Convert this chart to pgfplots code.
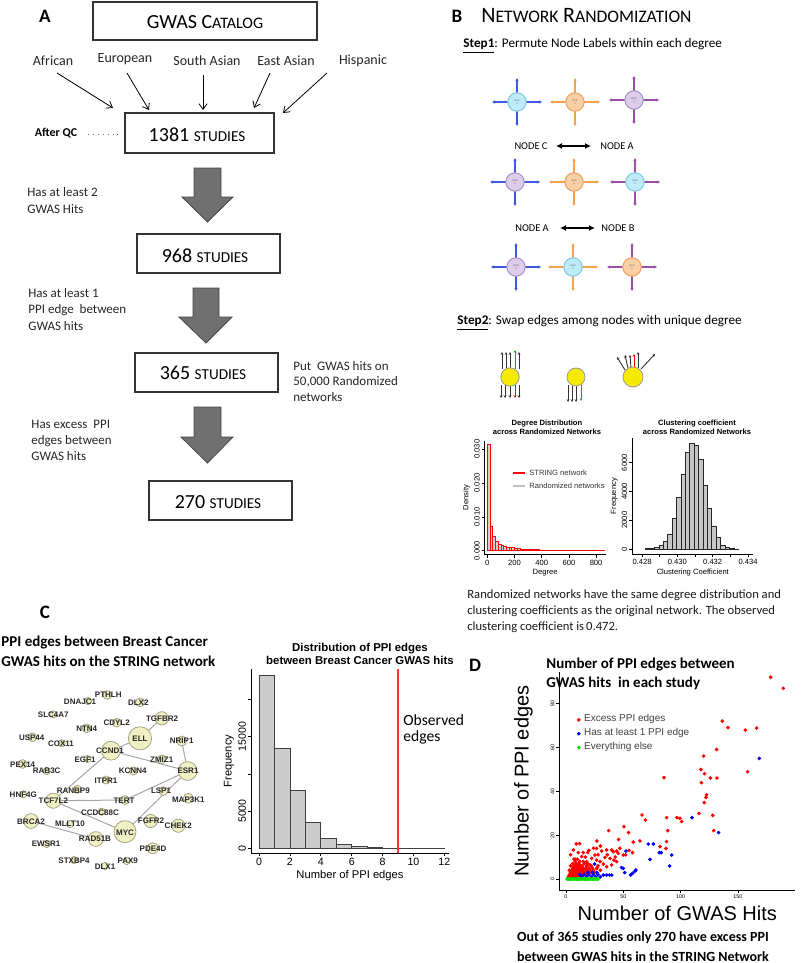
\documentclass[border=0pt]{standalone}
\usepackage{pgfplots}
\pgfplotsset{compat=1.18}
\usepackage{fontspec}
\setmainfont{Carlito}
\newfontfamily\arial{Liberation Sans}
\usetikzlibrary{arrows.meta}
\newcommand\fs[2]{\fontsize{#1pt}{#2pt}\selectfont}
\definecolor{bluesp}{HTML}{3B5BDB}
\definecolor{cyanf}{HTML}{BFEAF8}
\definecolor{cyanb}{HTML}{7CCBE5}
\definecolor{orangesp}{HTML}{F2A24A}
\definecolor{orangef}{HTML}{F9CFA6}
\definecolor{orangeb}{HTML}{EFA060}
\definecolor{purplesp}{HTML}{9B4FA8}
\definecolor{purplef}{HTML}{DCCDEA}
\definecolor{purpleb}{HTML}{A992C9}
\definecolor{yel}{HTML}{F5EA00}
\definecolor{nodefill}{HTML}{EFF0C4}
\definecolor{nodedraw}{HTML}{9C9C7A}
\definecolor{blk}{HTML}{707070}
\definecolor{blkb}{HTML}{454545}
\definecolor{rred}{HTML}{FF0000}
\definecolor{rblue}{HTML}{0000FF}
\definecolor{rgreen}{HTML}{00E000}
\newcommand\icon[5]{%
  \draw[#5, line width=0.6pt, -{Stealth[length=1.6pt,width=1.6pt]}] (#1+9,#2) -- (#1+25,#2);
  \draw[#5, line width=0.6pt, -{Stealth[length=1.6pt,width=1.6pt]}] (#1-9,#2) -- (#1-25,#2);
  \draw[#5, line width=0.6pt, -{Stealth[length=1.6pt,width=1.6pt]}] (#1,#2-9) -- (#1,#2-24);
  \draw[#5, line width=0.6pt, -{Stealth[length=1.6pt,width=1.6pt]}] (#1,#2+9) -- (#1,#2+24);
  \draw[fill=#3, draw=#4, line width=0.5pt] (#1,#2) circle[radius=4.6pt];
  \node[font={\fs{1.2}{1.4}}, text=black!60, align=center, inner sep=0pt] at (#1,#2) {NODE\\A};}
\pgfplotsset{rstyle/.style={scale only axis, clip=false, axis lines*=left,
  axis line style={line width=0.35pt,-}, tick align=outside,
  tick style={line width=0.35pt,black}, major tick length=1.5pt,
  scaled ticks=false,
  /pgf/number format/assume math mode=true,
  yticklabel style={rotate=90, anchor=south},
  every tick label/.append style={inner sep=0.8pt}}}
\begin{document}
\begin{tikzpicture}[x=0.5pt,y=-0.5pt]
\path[use as bounding box] (0,0) rectangle (800,963);
% ================= Panel A =================
\node[font={\bfseries\fs{9.5}{11}}] at (45,16) {A};
\draw[line width=0.55pt, draw=black!80] (93,2) rectangle (317,40);
\node at (205,22) {{\fs{10}{12}GWAS C}{\fs{8}{10}ATALOG}};
\foreach \t/\xx/\yy in {African/53/61, European/125/59, South Asian/207/61, East Asian/286/61, Hispanic/363/61}
  \node[font={\fs{7}{8}}, text=black!85] at (\xx,\yy) {\t};
\foreach \a/\b/\c/\d in {57/73/113/108, 127/73/149/110, 203/75/203/110, 270/73/254/108, 327/73/283/113}
  \draw[line width=0.4pt, -{Straight Barb[length=2.8pt,width=4pt]}] (\a,\b) -- (\c,\d);
\node[font={\bfseries\fs{6}{7}}] at (56,133) {After QC};
\draw[dotted, line width=0.45pt, black!60] (88,134) -- (119,134);
\draw[line width=0.55pt, draw=black!80] (125,113) rectangle (274,153);
\node at (197,135) {{\fs{10}{12}1381 }{\fs{7.6}{9}STUDIES}};
\draw[line width=0.55pt, draw=black!80] (137,234) rectangle (280,273);
\node at (205,256) {{\fs{10}{12}968 }{\fs{7.6}{9}STUDIES}};
\draw[line width=0.55pt, draw=black!80] (135,353) rectangle (278,392);
\node at (203,373) {{\fs{10}{12}365 }{\fs{7.6}{9}STUDIES}};
\draw[line width=0.55pt, draw=black!80] (149,481) rectangle (292,520);
\node at (218,502) {{\fs{10}{12}270 }{\fs{7.6}{9}STUDIES}};
% block arrows
\filldraw[fill=blk, draw=blkb, line width=0.4pt] (194,168) -- (221,168) -- (221,197) -- (233,197) -- (207.5,222) -- (182,197) -- (194,197) -- cycle;
\filldraw[fill=blk, draw=blkb, line width=0.4pt] (193,288) -- (219,288) -- (219,317) -- (232,317) -- (206,343) -- (179,317) -- (193,317) -- cycle;
\filldraw[fill=blk, draw=blkb, line width=0.4pt] (194,407) -- (221,407) -- (221,437) -- (233,437) -- (207.5,463) -- (181,437) -- (194,437) -- cycle;
\begin{scope}[every node/.style={anchor=west, font={\fs{6.5}{7.5}}, text=black!85, inner sep=0pt}]
\node at (27,192) {Has at least 2};
\node at (27,209) {GWAS Hits};
\node at (28,293) {Has at least 1};
\node at (28,310) {PPI edge\ \ between};
\node at (28,326) {GWAS hits};
\node at (31,424) {Has excess\ \ PPI};
\node at (31,441) {edges between};
\node at (31,456) {GWAS hits};
\node at (293,366) {Put\ \ GWAS hits on};
\node at (293,382) {50,000 Randomized};
\node at (293,397) {networks};
\end{scope}
% ================= Panel B =================
\node[font={\bfseries\fs{9.5}{11}}] at (457,16) {B};
\node[anchor=west, inner sep=0pt] at (481,16) {{\fs{11}{13}N}{\fs{8.8}{10}ETWORK} {\fs{11}{13}R}{\fs{8.8}{10}ANDOMIZATION}};
\node[anchor=west, inner sep=0pt, font={\fs{6.6}{8}}] at (463,46) {\underline{\textbf{Step1}}: Permute Node Labels within each degree};
\icon{517}{102}{cyanf}{cyanb}{bluesp}
\icon{575}{102}{orangef}{orangeb}{orangesp}
\icon{634}{100}{purplef}{purpleb}{purplesp}
\node[font={\fs{5.2}{6}}] at (531,146) {NODE C};
\node[font={\fs{5.2}{6}}] at (617,146) {NODE A};
\draw[{Latex[length=3pt,width=3pt]}-{Latex[length=3pt,width=3pt]}, line width=0.8pt] (556,146) -- (591,146);
\icon{515}{182}{purplef}{purpleb}{bluesp}
\icon{574}{182}{orangef}{orangeb}{orangesp}
\icon{635}{182}{cyanf}{cyanb}{purplesp}
\node[font={\fs{5.2}{6}}] at (532,228) {NODE A};
\node[font={\fs{5.2}{6}}] at (618,228) {NODE B};
\draw[{Latex[length=3pt,width=3pt]}-{Latex[length=3pt,width=3pt]}, line width=0.8pt] (560,228) -- (595,228);
\icon{516}{267}{purplef}{purpleb}{bluesp}
\icon{573}{267}{cyanf}{cyanb}{orangesp}
\icon{632}{267}{orangef}{orangeb}{purplesp}
\node[anchor=west, inner sep=0pt, font={\fs{6.6}{8}}] at (457,323) {\underline{\textbf{Step2}}: Swap edges among nodes with unique degree};
% step 2 icons
\begin{scope}[line width=0.45pt, -{Stealth[length=1.4pt,width=1.4pt]}]
\foreach \xx in {502,506,510,519} \draw[black!80] (\xx,369) -- (\xx,352);
\draw[green!70!black] (515,369) -- (515,350);
\foreach \xx in {501,505,510,519} \draw[black!80] (\xx,385) -- (\xx,398);
\draw[red] (515,385) -- (515,398);
\foreach \xx in {568,572,576} \draw[black!80] (\xx,385) -- (\xx,402);
\draw[green!70!black] (581,385) -- (581,401);
\draw[black!80] (625,370) -- (617,357);
\draw[black!80] (628,368) -- (625,355);
\draw[black!80] (631,368) -- (630,355);
\draw[red] (634,368) -- (634,354);
\draw[black!80] (638,368) -- (638,352);
\draw[black!80] (641,369) -- (655,354);
\end{scope}
\draw[fill=yel, draw=black!40, line width=0.4pt] (510,377) circle[radius=4.6pt];
\draw[fill=yel, draw=black!40, line width=0.4pt] (576,377) circle[radius=4.5pt];
\draw[fill=yel, draw=black!40, line width=0.4pt] (633,377) circle[radius=5pt];
% Degree distribution
\node[font={\arial\bfseries\fs{3.8}{4.3}}, align=center] at (547,427) {Degree Distribution\\across Randomized Networks};
\coordinate (ddsw) at (484.6,554.8);
\begin{axis}[rstyle, at={(ddsw)}, anchor=south west, width=60.5pt, height=57.1pt,
  xmin=-20, xmax=870, ymin=-0.0012, ymax=0.0325,
  xtick={0,200,400,600,800}, xticklabels={0,200,400,600,800},
  ytick={0,0.01,0.02,0.03}, yticklabels={0.000,0.010,0.020,0.030},
  ticklabel style={font={\arial\fs{3.8}{4.2}}},
  xlabel={Degree}, ylabel={Density},
  label style={font={\arial\fs{3.8}{4.2}}},
  xlabel style={yshift=2.2pt}, ylabel style={yshift=-2.2pt}]
\addplot[ybar interval, fill=gray!35, draw=rred, line width=0.3pt] coordinates {
(0,0.0315) (20,0.0071) (40,0.0043) (60,0.0029) (80,0.0020) (100,0.0015) (120,0.0012)
(140,0.0010) (160,0.0009) (180,0.0009) (200,0.0007) (220,0.0006) (240,0.0005) (260,0.00045)
(280,0.0004) (300,0.00035) (320,0.0003) (340,0.0003) (360,0.00028) (380,0.00025) (400,0.00025)
(420,0.00022) (440,0.0002) (460,0.0002) (480,0.00018) (500,0.00018) (520,0.00016) (540,0.00016)
(560,0.00015) (580,0.00015) (600,0.00014) (620,0.00013) (640,0.00013) (660,0.00012) (680,0.00012)
(700,0.00011) (720,0.0001) (740,0.0001) (760,0.0001) (780,0.0001) (800,0.0001) (820,0.0001)
(840,0.0001) (860,0.0001)};
\end{axis}
% legend of degree plot
\draw[rred, line width=0.8pt] (513,473) -- (525,473);
\draw[gray!50, line width=0.8pt] (513,486) -- (525,486);
\node[anchor=west, inner sep=0pt, font={\arial\fs{3.8}{4.3}}, text=black!80] at (529,473) {STRING network};
\node[anchor=west, inner sep=0pt, font={\arial\fs{3.8}{4.3}}, text=black!80] at (529,486) {Randomized networks};
% Clustering coefficient
\node[font={\arial\bfseries\fs{3.8}{4.3}}, align=center] at (697,427) {Clustering coefficient\\across Randomized Networks};
\coordinate (ccsw) at (632.3,554);
\begin{axis}[rstyle, at={(ccsw)}, anchor=south west, width=60.5pt, height=57.9pt,
  xmin=0.42745, xmax=0.4343, ymin=-350, ymax=7700,
  xtick={0.428,0.429,0.430,0.431,0.432,0.433,0.434}, xticklabels={0.428,,0.430,,0.432,,0.434},
  ytick={0,2000,4000,6000}, yticklabels={0,2000,4000,6000},
  ticklabel style={font={\arial\fs{3.8}{4.2}}},
  xlabel={Clustering Coefficient}, ylabel={Frequency},
  label style={font={\arial\fs{3.8}{4.2}}},
  xlabel style={yshift=2.2pt}, ylabel style={yshift=-2.2pt}]
\addplot[ybar interval, fill=gray!45, draw=black!85, line width=0.3pt] coordinates {
(0.42820,15) (0.42845,40) (0.42870,100) (0.42895,250) (0.42920,500) (0.42945,1050)
(0.42970,2100) (0.42995,3600) (0.43020,5200) (0.43045,6700) (0.43070,7350) (0.43095,7200)
(0.43120,6200) (0.43145,4450) (0.43170,2800) (0.43195,1600) (0.43220,800) (0.43245,250)
(0.43270,90) (0.43295,30) (0.43320,10) (0.43345,10)};
\end{axis}
\begin{scope}[every node/.style={anchor=west, font={\fs{6.3}{7.5}}, text=black!90, inner sep=0pt}]
\node at (467,595) {Randomized networks have the same degree distribution and};
\node at (467,611) {clustering coefficients as the original network. The observed};
\node at (467,627) {clustering coefficient is\,0.472.};
\end{scope}
% ================= Panel C =================
\node[font={\bfseries\fs{9.5}{11}}] at (45,612) {C};
\node[anchor=west, inner sep=0pt, font={\bfseries\fs{7.5}{9}}] at (1,643) {PPI edges between Breast Cancer};
\node[anchor=west, inner sep=0pt, font={\bfseries\fs{7.5}{9}}] at (1,661) {GWAS hits on the STRING network};
\coordinate (netsw) at (0,880);
\begin{axis}[at={(netsw)}, anchor=south west, scale only axis, width=100pt, height=100pt,
  xmin=0, xmax=200, ymin=680, ymax=880, y dir=reverse, hide axis, clip=false]
\addplot[gray!70, line width=0.5pt, unbounded coords=jump] coordinates {
(161.7,718.3) (140,738.3) (111,750.7) (187.7,771) (181.7,741) (nan,nan)
(111,750.7) (53.3,800.7) (125,800) (187.7,771) (125,831.7) (53.3,800.7) (nan,nan)
(31,821) (95.7,839)};
\addplot[scatter, only marks, mark=*, mark options={line width=0.35pt},
  scatter/use mapped color={draw=nodedraw, fill=nodefill},
  visualization depends on={\thisrow{r}\as\rr},
  scatter/@pre marker code/.append style={/tikz/mark size=\rr},
  point meta=\thisrow{r}] table[x=x, y=y] {
x y r
107.3 695 2.2
88 701 1.8
140 702.3 2.2
53.3 714.3 1.8
161.7 718.3 3.3
116.7 722.7 2.2
86.7 728.3 2.2
140 738.3 5.8
32.3 737.3 2.2
61.7 743.3 1.8
181.7 741 2.5
111 750.7 4.7
22.7 764 2.2
87.3 759 1.8
161.7 759.3 2.2
46.7 771 1.8
133.3 771 2
187.7 771 4.7
106 780 2
77.3 789.3 2
163.3 791 2.2
23.3 794.3 1.8
53.3 800.7 3.8
125 800 2.2
188.3 798.3 2.5
101.7 811.7 1.8
150.7 821 3.3
178.3 825.7 3.3
31 821 3.7
70 824 1.8
125 831.7 5.5
95.7 839 3.7
46.7 844 1.8
152.7 848.3 2.8
74 860 1.8
126.7 861 1.8
105 866 1.8
};
\addplot[only marks, mark=*, mark size=0pt, mark options={draw=none, fill=none},
  point meta=explicit symbolic, nodes near coords,
  nodes near coords style={anchor=center, font={\arial\bfseries\fs{4}{4.5}}, text=black!85, inner sep=0pt}]
  table[x=x, y=y, meta=l] {
x y l
108.3 695 PTHLH
80 701.7 DNAJC1
138.3 702.3 DLX2
53.3 714.3 SLC4A7
162 718.3 TGFBR2
116.7 722.3 CDYL2
86.7 729 NTN4
140 738.3 ELL
31.7 737.7 USP44
61 743.3 COX11
181.7 741 NRIP1
110 750.7 CCND1
22.7 765 PEX14
85 760 EGF1
161.7 760 ZMIZ1
46.7 771 RAB3C
132.7 771 KCNN4
188 771 ESR1
106 781 ITPR1
73.3 791 RANBP9
161 791 LSP1
23.3 794.3 HNF4G
53.3 800.7 TCF7L2
124 800.7 TERT
188.3 799.3 MAP3K1
100 812.3 CCDC88C
151 821 FGFR2
178.3 826 CHEK2
31 822 BRCA2
70 824 MLLT10
125 832.3 MYC
95 839 RAD51B
46 844 EWSR1
153 848.3 PDE4D
74 861 STXBP4
127.7 861 PAX9
105 866.7 DLX1
};
\end{axis}
% histogram C
\node[font={\arial\bfseries\fs{5.7}{6.6}}, align=center] at (360,654) {Distribution of PPI edges\\between Breast Cancer GWAS hits};
\coordinate (chsw) at (251,853.3);
\begin{axis}[rstyle, at={(chsw)}, anchor=south west, width=99pt, height=92.2pt,
  xmin=-0.52, xmax=12.3, ymin=-670, ymax=24100,
  xtick={0,2,4,6,8,10,12}, xticklabels={0,2,4,6,8,10,12},
  ytick={0,5000,10000,15000,20000}, yticklabels={0,5000,,15000,},
  ticklabel style={font={\arial\fs{5.3}{6}}},
  xlabel={Number of PPI edges}, ylabel={Frequency},
  label style={font={\arial\fs{5.6}{6.4}}},
  xlabel style={yshift=2pt}, ylabel style={yshift=-2pt}]
\addplot[ybar interval, fill=gray!40, draw=black!75, line width=0.4pt] coordinates {
(0,23200) (1,13450) (2,7830) (3,3490) (4,1340) (5,580) (6,270) (7,100) (8,40) (9,15) (10,5) (11,2) (12,2)};
\addplot[color=rred!80, line width=0.6pt] coordinates {(9,-670) (9,24100)};
\end{axis}
\node[anchor=base west, inner sep=0pt, font={\fs{7.8}{9}}] at (403,725) {Observed};
\node[anchor=base west, inner sep=0pt, font={\fs{7.8}{9}}] at (403,741) {edges};
% ================= Panel D =================
\node[font={\bfseries\fs{9.5}{11}}] at (475,665) {D};
\node[anchor=west, inner sep=0pt, font={\bfseries\fs{7.5}{9}}] at (546,665) {Number of PPI edges between};
\node[anchor=west, inner sep=0pt, font={\bfseries\fs{7.5}{9}}] at (546,683) {GWAS hits\ \ in each study};
\coordinate (dsw) at (559.3,890);
\begin{axis}[rstyle, at={(dsw)}, anchor=south west, width=118pt, height=108.9pt,
  xmin=-5.8, xmax=200, ymin=-5, ymax=94,
  xtick={0,50,100,150}, xticklabels={0,50,100,150},
  ytick={0,20,40,60,80}, yticklabels={0,20,40,60,80},
  ticklabel style={font={\arial\fs{2.7}{3}}},
  xlabel={Number of GWAS Hits}, ylabel={Number of PPI edges},
  label style={font={\arial\fs{10}{11}}},
  xlabel style={yshift=0.5pt}, ylabel style={yshift=4.5pt},
  legend style={at={(axis description cs:0.075,0.825)}, anchor=north west, draw=none, fill=none,
    font={\arial\fs{5}{5.6}}, text=black!75, inner sep=0pt, row sep=-2.2pt},
  legend cell align=left]
\addplot[only marks, mark=*, mark size=0.7pt, color=rred] coordinates {
(178.5,91.7) (189.5,86.7) (136.3,71.8) (141.3,68.8) (156.4,67.7) (166.3,68.6) (131.4,58.9)
(120.1,55.9) (117.7,49.8) (120.9,47.9) (125.9,45.9) (131.7,45.9) (85.5,46.1) (118.1,43.8)
(158.4,48.8) (122.6,38.2) (122.1,37.1) (120.6,34.7) (116.0,29.8) (128.0,28.9) (66.3,29.1)
(69.2,26.8) (87.8,27.9) (96.8,27.9) (99.4,27.6) (100.9,26.1) (50.6,23.8) (37.2,22.0)
(54.6,21.1) (88.7,22.0) (128.8,22.0) (27,17.3) (11.9,16.1) (45.9,18.0) (58.7,16.8) (64.5,17.3)
(82,14.7) (87.8,17) (87.2,13.9) (6.4,13.2) (10.8,12) (15.1,12) (18.9,12) (26.7,13.9) (31.1,12.7)
(35.5,13.2) (39.8,13.2) (41.3,12.4) (44.2,12.7) (45.6,11.7) (50,10.9) (34,9.8) (38.4,9.4)
(41.9,8.6) (44.2,7.9) (29.7,7.9) (32.6,6.8) (35.5,5.6) (39.8,6.4) (25.3,10.9) (22.4,9.4)
(26.7,8.6) (20.9,6.4) (12.2,6.4) (18,7.9) (13.7,10.2) (26.7,4.8) (8,9) (4,11) (17,10) (28,11)
(30,15) (47,14) (52,11) (36,11) (43,10) (24,14) (20,13) (9,16) (55,13) (58,12)
(2,1) (3,1) (3,2) (4,1) (4,2) (4,3) (5,1) (5,2) (5,3) (5,4) (6,1) (6,2) (6,3) (6,4) (6,5)
(7,1) (7,2) (7,3) (7,4) (7,5) (7,6) (8,1) (8,2) (8,3) (8,4) (8,5) (8,6) (9,1) (9,2) (9,3)
(9,4) (9,5) (9,7) (10,1) (10,2) (10,3) (10,4) (10,5) (10,6) (11,2) (11,3) (11,4) (11,5) (11,7)
(12,1) (12,3) (12,4) (12,5) (12,6) (13,2) (13,3) (13,4) (13,5) (14,3) (14,4) (14,6) (15,2)
(15,3) (15,5) (16,3) (16,4) (16,7) (17,3) (17,5) (18,2) (18,4) (18,6) (19,4) (20,3) (20,5)
(21,4) (22,3) (23,5) (24,4) (25,3) (27,5) (6,7) (8,8) (12,8) (4,6) (3,4) (7,9) (10,9) (15,8)
(19,7) (22,6) (28,6) (30,4)};
\addlegendentry{Excess PPI edges}
\addplot[only marks, mark=*, mark size=0.7pt, color=rblue] coordinates {
(168.6,54.8) (109.9,27.9) (133.1,21.1) (71.8,15.9) (76.2,15.9) (81.4,12) (83.1,12) (92.2,10.9)
(73.3,8.9) (90.4,5.9) (52.3,12.7) (48.5,5.2) (50,4.8) (51.2,2.9) (56.4,1.8) (58.1,2.6) (60.2,3.6)
(61,4.1) (32.6,1.8) (35.5,1.8) (38,1.8) (40,1.8) (25,6.8) (14,1) (16,2) (18,1) (20,2) (22,1)
(24,2) (26,1) (28,2) (30,1) (12,2) (19,3) (23,3) (27,3)};
\addlegendentry{Has at least 1 PPI edge}
\addplot[only marks, mark=*, mark size=0.7pt, color=rgreen] coordinates {
(1,0) (2,0) (3,0) (4,0) (5,0) (6,0) (7,0) (8,0) (9,0) (10,0) (11,0) (12,0) (13,0) (14,0)
(15,0) (16,0) (17,0) (18,0) (19,0) (20,0) (21,0) (22,0) (23,0) (24,0) (25,0) (26,0) (27,0) (28,0)};
\addlegendentry{Everything else}
\end{axis}
\node[font={\bfseries\fs{7}{8}}] at (643,938) {Out of 365 studies only 270 have excess PPI};
\node[font={\bfseries\fs{7}{8}}] at (643,957) {between GWAS hits in the STRING Network};
\end{tikzpicture}
\end{document}
